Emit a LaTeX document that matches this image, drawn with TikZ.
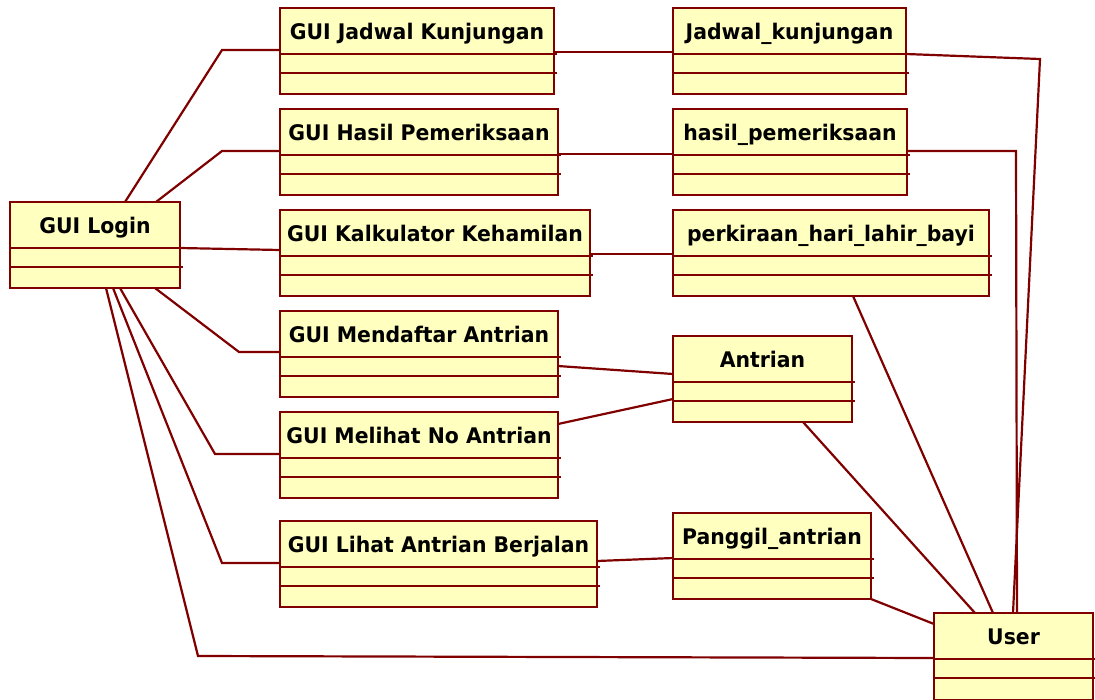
\documentclass[tikz,border=0pt]{standalone}
\usepackage{fontspec}
\setmainfont{DejaVu Sans}[FakeStretch=0.95]
\usetikzlibrary{calc}
\definecolor{umlred}{RGB}{128,0,0}
\definecolor{umlfill}{RGB}{255,255,192}
\tikzset{
  cls/.style={draw=umlred, fill=umlfill, line width=2.2pt, rectangle, inner sep=0pt, outer sep=0pt},
  ttl/.style={anchor=base, inner sep=0pt, font=\fontsize{21.5}{25}\selectfont\bfseries, text=black},
  cline/.style={draw=umlred, line width=2.2pt},
  conn/.style={draw=umlred, line width=2.2pt, line join=miter},
}
% name, x1, y1, x2, y2, title
\newcommand\umlclass[6]{%
  \node[cls, minimum width={(#4-#2)*1pt}, minimum height={(#5-#3)*1pt}] (#1) at ({(#2+#4)/2},{(#3+#5)/2}) {};
  \node[ttl] (#1-t) at ({(#2+#4)/2},{#3+31}) {#6};
  \draw[cline] (#2,#3+46) -- (#4+3,#3+46);
  \draw[cline] (#2,#3+65) -- (#4+3,#3+65);
}
\begin{document}
\begin{tikzpicture}[x=1pt,y=-1pt]
\clip (0,0) rectangle (1095,699);
\fill[white] (0,0) rectangle (1095,699);

\coordinate (b1) at (222,50);
\coordinate (b2) at (222,151);
\coordinate (b3) at (239,352);
\coordinate (b4) at (215,454);
\coordinate (b5) at (222,563);
\coordinate (b6) at (198,656);
\coordinate (b7) at (1040,59);
\coordinate (b8) at (1016,151);

\umlclass{login}{10}{202}{180}{288}{GUI Login}
\umlclass{gj}{280}{8}{554}{94}{GUI Jadwal Kunjungan}
\umlclass{gh}{280}{109}{558}{195}{GUI Hasil Pemeriksaan}
\umlclass{gk}{280}{210}{590}{296}{GUI Kalkulator Kehamilan}
\umlclass{gm}{280}{311}{558}{397}{GUI Mendaftar Antrian}
\umlclass{gn}{280}{412}{558}{498}{GUI Melihat No Antrian}
\umlclass{gl}{280}{521}{597}{607}{GUI Lihat Antrian Berjalan}
\umlclass{jk}{673}{8}{906}{94}{Jadwal\_kunjungan}
\umlclass{hp}{673}{109}{907}{195}{hasil\_pemeriksaan}
\umlclass{pk}{673}{210}{989}{296}{perkiraan\_hari\_lahir\_bayi}
\umlclass{an}{673}{336}{852}{422}{Antrian}
\umlclass{pa}{673}{513}{871}{599}{Panggil\_antrian}
\umlclass{user}{934}{613}{1093}{700}{User}

% GUI Login to GUI classes
\draw[conn] ($(login.north west)+(115,0)$) -- (b1) -- ($(gj.north west)+(0,42)$);
\draw[conn] ($(login.north west)+(146,0)$) -- (b2) -- ($(gh.north west)+(0,42)$);
\draw[conn] ($(login.north east)+(0,46)$) -- ($(gk.north west)+(0,40)$);
\draw[conn] ($(login.south west)+(145,0)$) -- (b3) -- ($(gm.north west)+(0,41)$);
\draw[conn] ($(login.south west)+(110,0)$) -- (b4) -- ($(gn.north west)+(0,42)$);
\draw[conn] ($(login.south west)+(103,0)$) -- (b5) -- ($(gl.north west)+(0,42)$);
\draw[conn] ($(login.south west)+(96,0)$) -- (b6) -- ($(user.north west)+(0,45)$);

% GUI classes to entities
\draw[conn] ($(gj.north east)+(0,44)$) -- ($(jk.north west)+(0,44)$);
\draw[conn] ($(gh.north east)+(0,45)$) -- ($(hp.north west)+(0,45)$);
\draw[conn] ($(gk.north east)+(0,44)$) -- ($(pk.north west)+(0,44)$);
\draw[conn] ($(gm.north east)+(0,55)$) -- ($(an.north west)+(0,38)$);
\draw[conn] ($(gn.north east)+(0,12)$) -- ($(an.north west)+(0,63)$);
\draw[conn] ($(gl.north east)+(0,40)$) -- ($(pa.north west)+(0,45)$);

% entities to User
\draw[conn] ($(jk.north east)+(0,46)$) -- (b7) -- ($(user.north west)+(79,0)$);
\draw[conn] ($(hp.north east)+(0,42)$) -- (b8) -- ($(user.north west)+(83,0)$);
\draw[conn] ($(pk.south west)+(180,0)$) -- ($(user.north west)+(59,0)$);
\draw[conn] ($(an.south west)+(130,0)$) -- ($(user.north west)+(41,0)$);
\draw[conn] (pa.south east) -- ($(user.north west)+(0,11)$);
\end{tikzpicture}
\end{document}
